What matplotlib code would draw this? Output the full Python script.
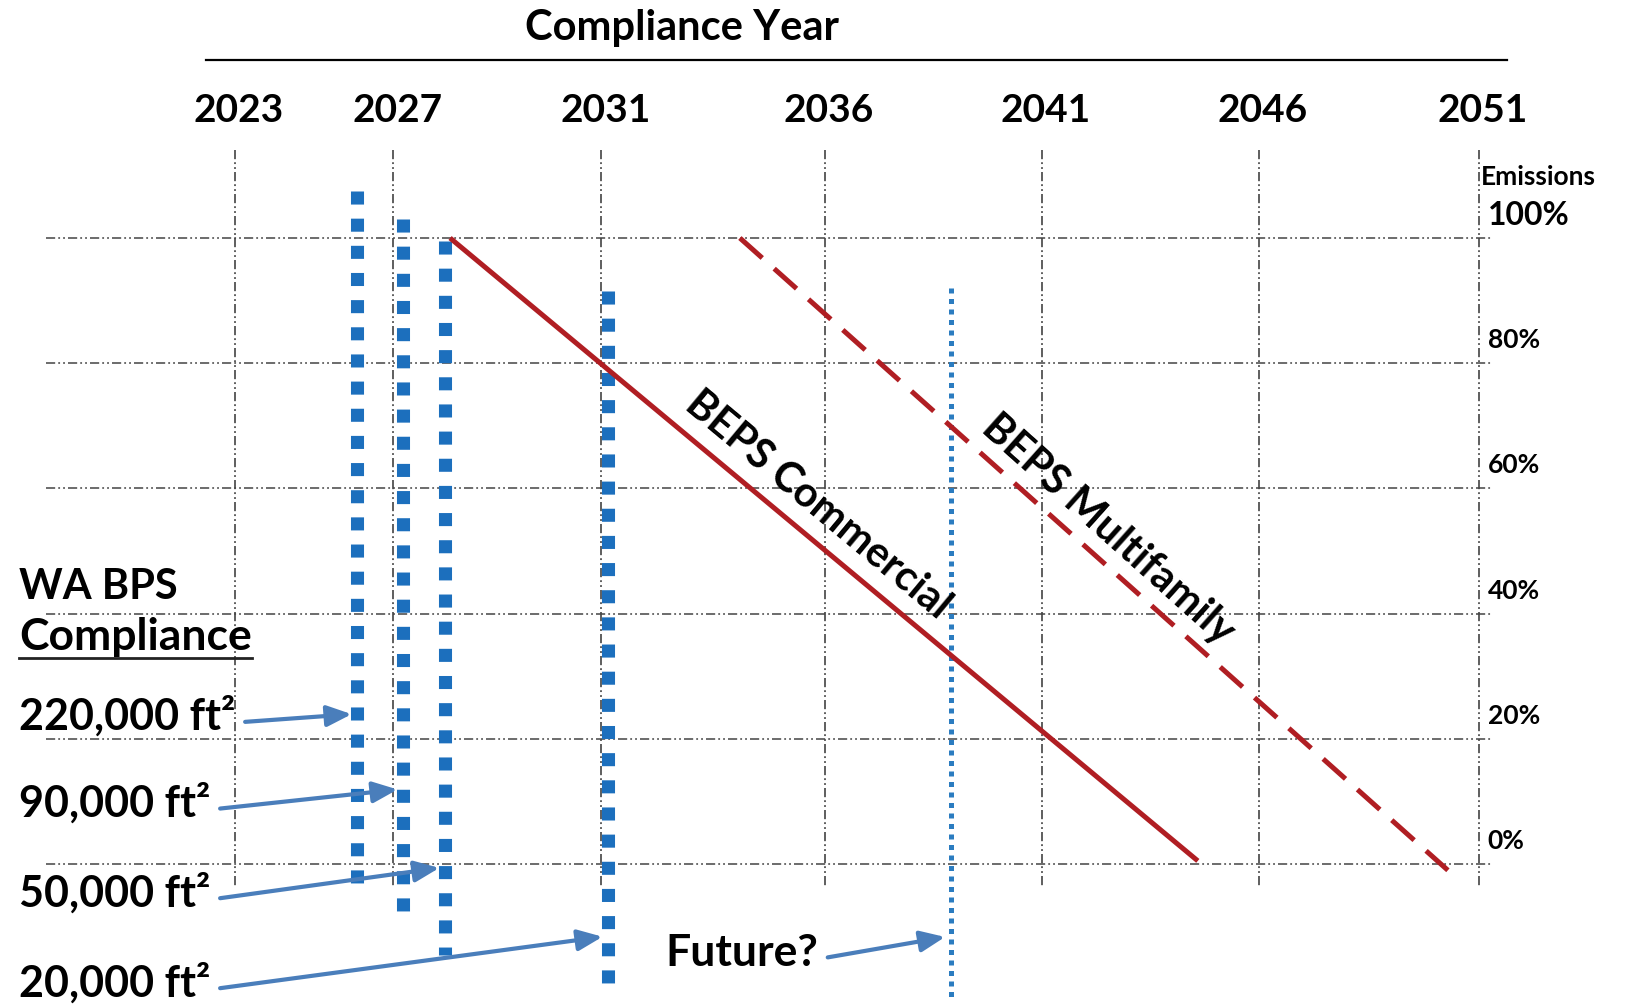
import matplotlib.pyplot as plt
from matplotlib.lines import Line2D
import numpy as np

plt.rcParams['font.family'] = ['Lato', 'DejaVu Sans']
plt.rcParams['font.weight'] = 'bold'

# compliance years along the top
years = [2023, 2027, 2031, 2036, 2041, 2046, 2051]
# emissions (% of baseline) on the right
emission_levels = [100, 80, 60, 40, 20, 0]

# BEPS reduction paths
commercial_years = [2028.1, 2044.6]
commercial_pct = [100, 0.5]
multifamily_years = [2034.1, 2050.3]
multifamily_pct = [100, -1]

# WA BPS compliance deadlines by building size
size_labels = ['220,000 ft²', '90,000 ft²', '50,000 ft²', '20,000 ft²']
deadline_years = [2026.1, 2027.2, 2028.0, 2031.15]
deadline_top = [107.5, 103, 99.5, 91.5]
deadline_bottom = [-4.5, -9.5, -14.5, -21.3]
arrow_pct = [24, 12, -0.5, -11.5]

future_year = 2038.9
future_top, future_bottom = 92, -21.3
future_arrow_pct = -11.5

# year columns are not evenly spaced, so the x scale goes through these anchors
column_x = [0.143, 0.239, 0.366, 0.502, 0.634, 0.766, 0.900]

GRID = (0, (6, 2, 1.2, 2, 1.2, 2))
BLUE = '#1c6fbd'
RED = '#b01e23'
ARROW = '#4a7ebb'


def make_anchors():
    lo = column_x[0] - (years[0] - 2000) * (column_x[1] - column_x[0]) / (years[1] - years[0])
    hi = column_x[-1] + (2080 - years[-1]) * (column_x[-1] - column_x[-2]) / (years[-1] - years[-2])
    return [2000] + years + [2080], [lo] + column_x + [hi]


anchor_years, anchor_x = make_anchors()


def year_to_x(y):
    return np.interp(y, anchor_years, anchor_x)


def x_to_year(x):
    return np.interp(x, anchor_x, anchor_years)


def screen_angle(ax, xs, ys):
    p = ax.transData.transform(np.column_stack([xs, ys]))
    return np.degrees(np.arctan2(p[1, 1] - p[0, 1], p[1, 0] - p[0, 0]))


def arrow_props():
    return dict(arrowstyle='-|>,head_length=0.75,head_width=0.32', color=ARROW, lw=3,
                mutation_scale=20, shrinkA=5, shrinkB=4, relpos=(1.0, 0.35))


def main():
    fig = plt.figure(figsize=(16.43, 10.05), dpi=100)
    ax = fig.add_axes([0, 0, 1, 1])
    ax.set_xscale('function', functions=(year_to_x, x_to_year))
    ax.set_xlim(x_to_year(0.0), x_to_year(1.0))
    ax.set_ylim(-22.52, 138.02)
    ax.axis('off')

    # grid
    for y in years:
        ax.plot([y, y], [114, -3.8], color='#333333', lw=1.1, ls=GRID)
        ax.text(y + 0.1, 118.6, str(y), ha='center', va='baseline', fontsize=28)
    for v in emission_levels:
        ax.plot([2018.2, 2051.3], [v, v], color='#444444', lw=1.1, ls=GRID)
    for v in emission_levels[1:]:
        ax.text(2051.2, v + 2.4, f'{v}%', ha='left', va='baseline', fontsize=19)
    ax.text(2051.2, 102.1, '100%', ha='left', va='baseline', fontsize=23)
    ax.text(2051.05, 108.4, 'Emissions', ha='left', va='baseline', fontsize=19)

    fig.text(0.415, 0.960, 'Compliance Year', ha='center', va='baseline', fontsize=30)
    fig.add_artist(Line2D([0.1254, 0.917], [0.940, 0.940], color='black', lw=1.6))

    # compliance deadlines
    for yr, top, bottom in zip(deadline_years, deadline_top, deadline_bottom):
        ax.plot([yr, yr], [top, bottom], color=BLUE, lw=9.4, ls=(0, (1, 1.08)),
                dash_capstyle='butt')
    ax.plot([future_year, future_year], [future_top, future_bottom], color='#2b7cc0',
            lw=3.6, ls=(0, (1, 1.1)), dash_capstyle='butt')

    # BEPS paths
    ax.plot(commercial_years, commercial_pct, color=RED, lw=3.6, solid_capstyle='butt')
    ax.plot(multifamily_years, multifamily_pct, color=RED, lw=3.6, ls=(0, (6, 3.2)),
            dash_capstyle='butt')
    ang_c = screen_angle(ax, commercial_years, commercial_pct)
    ang_m = screen_angle(ax, multifamily_years, multifamily_pct)
    ax.text(2035.85, 57.3, 'BEPS Commercial', rotation=ang_c, rotation_mode='anchor',
            ha='center', va='center', fontsize=30)
    ax.text(2042.54, 53.5, 'BEPS Multifamily', rotation=ang_m, rotation_mode='anchor',
            ha='center', va='center', fontsize=30)

    # left-hand labels with arrows to the deadline lines
    ax.text(0.0116, 0.404, 'WA BPS', transform=ax.transAxes, ha='left', va='baseline',
            fontsize=30)
    comp = ax.text(0.0116, 0.353, 'Compliance', transform=ax.transAxes, ha='left',
                   va='baseline', fontsize=32)
    label_y = [0.2736, 0.187, 0.0975, 0.008]
    for label, yr, pct, ty in zip(size_labels, deadline_years, arrow_pct, label_y):
        ax.annotate(label, xy=(yr, pct), xytext=(0.0116, ty), textcoords='axes fraction',
                    ha='left', va='baseline', fontsize=31, arrowprops=arrow_props())
    ax.annotate('Future?', xy=(future_year, future_arrow_pct), xytext=(2032.43, -16.3),
                ha='left', va='baseline', fontsize=32, arrowprops=arrow_props())

    fig.canvas.draw()
    bb = comp.get_window_extent()
    w = fig.bbox.width
    fig.add_artist(Line2D([bb.x0 / w, bb.x1 / w], [0.345, 0.345], color='#222222', lw=2))

    fig.savefig('out.png', dpi=100)


if __name__ == "__main__":
    main()
